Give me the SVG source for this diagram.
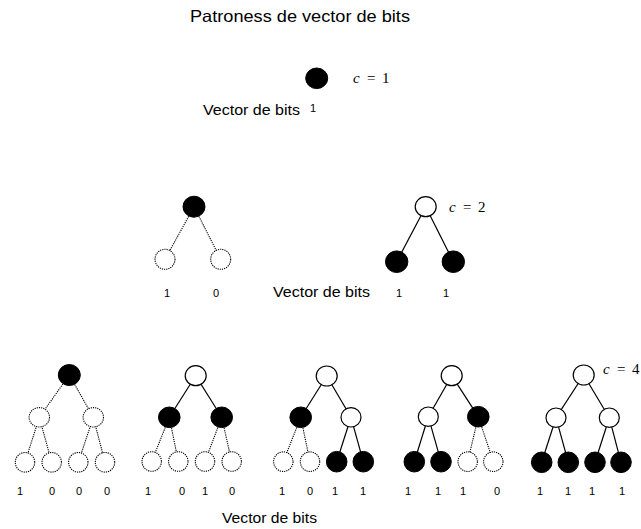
<svg xmlns="http://www.w3.org/2000/svg" width="641" height="529" viewBox="0 0 641 529">
<style>
  .t { font-family: "Liberation Sans", Arial, sans-serif; fill: #000; }
  .title { font-size: 16.5px; }
  .lbl { font-size: 14px; }
  .bit { font-size: 11px; text-anchor: middle; }
  .m { font-family: "Liberation Serif", "DejaVu Serif", serif; font-size: 15px; fill: #000; }
  .b { fill: #000; stroke: #000; stroke-width: 1; }
  .w { fill: #fff; stroke: #000; stroke-width: 1.2; }
  .d { fill: #fff; stroke: #000; stroke-width: 1.1; stroke-dasharray: 1.2 1; }
  .s { stroke: #000; stroke-width: 1.2; fill: none; }
  .dl { stroke: #000; stroke-width: 1.1; stroke-dasharray: 1.2 1; fill: none; }
</style>
<rect width="641" height="529" fill="#fff"/>
<text class="t title" x="190" y="22" textLength="220" lengthAdjust="spacingAndGlyphs">Patroness de vector de bits</text>

<g id="connectors">
  <line class="dl" x1="194" y1="206.7" x2="165" y2="259.3"/>
  <line class="dl" x1="194" y1="206.7" x2="220.7" y2="259.3"/>
  <line class="s" x1="425.7" y1="206.7" x2="396.7" y2="261.7"/>
  <line class="s" x1="425.7" y1="206.7" x2="453.3" y2="261.7"/>
  <line class="dl" x1="69.3" y1="375" x2="39.3" y2="417.3"/>
  <line class="dl" x1="69.3" y1="375" x2="93.3" y2="417.3"/>
  <line class="dl" x1="39.3" y1="417.3" x2="25" y2="462.3"/>
  <line class="dl" x1="39.3" y1="417.3" x2="51.7" y2="462.3"/>
  <line class="dl" x1="93.3" y1="417.3" x2="78.3" y2="462.3"/>
  <line class="dl" x1="93.3" y1="417.3" x2="105" y2="462.3"/>
  <line class="s" x1="195.7" y1="375.7" x2="169.3" y2="417.3"/>
  <line class="s" x1="195.7" y1="375.7" x2="221.7" y2="417.3"/>
  <line class="dl" x1="169.3" y1="417.3" x2="151.7" y2="461.5"/>
  <line class="dl" x1="169.3" y1="417.3" x2="178.3" y2="461.5"/>
  <line class="dl" x1="221.7" y1="417.3" x2="205" y2="461.5"/>
  <line class="dl" x1="221.7" y1="417.3" x2="231.7" y2="461.5"/>
  <line class="s" x1="326.7" y1="376" x2="300.7" y2="417.3"/>
  <line class="s" x1="326.7" y1="376" x2="351" y2="417.3"/>
  <line class="dl" x1="300.7" y1="417.3" x2="283.3" y2="461.7"/>
  <line class="dl" x1="300.7" y1="417.3" x2="310" y2="461.7"/>
  <line class="s" x1="351" y1="417.3" x2="336.7" y2="461.7"/>
  <line class="s" x1="351" y1="417.3" x2="363.3" y2="461.7"/>
  <line class="s" x1="451.7" y1="375.7" x2="428.3" y2="416.7"/>
  <line class="s" x1="451.7" y1="375.7" x2="478.3" y2="416.7"/>
  <line class="s" x1="428.3" y1="416.7" x2="414.3" y2="461.7"/>
  <line class="s" x1="428.3" y1="416.7" x2="441" y2="461.7"/>
  <line class="dl" x1="478.3" y1="416.7" x2="467.7" y2="461.7"/>
  <line class="dl" x1="478.3" y1="416.7" x2="493.3" y2="461.7"/>
  <line class="s" x1="583.7" y1="375" x2="556" y2="417.7"/>
  <line class="s" x1="583.7" y1="375" x2="609.3" y2="417.7"/>
  <line class="s" x1="556" y1="417.7" x2="541.7" y2="462.3"/>
  <line class="s" x1="556" y1="417.7" x2="568.3" y2="462.3"/>
  <line class="s" x1="609.3" y1="417.7" x2="595" y2="462.3"/>
  <line class="s" x1="609.3" y1="417.7" x2="621" y2="462.3"/>
</g>

<g id="n-c1"><ellipse class="b" cx="316.7" cy="78.3" rx="11" ry="10.3"/></g>

<g id="n-m1-root"><ellipse class="b" cx="194" cy="206.7" rx="11" ry="10.5"/></g>
<g id="n-m1-l"><ellipse class="d" cx="165" cy="259.3" rx="10" ry="10"/></g>
<g id="n-m1-r"><ellipse class="d" cx="220.7" cy="259.3" rx="10" ry="10"/></g>

<g id="n-m2-root"><ellipse class="w" cx="425.7" cy="206.7" rx="10.5" ry="10"/></g>
<g id="n-m2-l"><ellipse class="b" cx="396.7" cy="261.7" rx="11.2" ry="10.8"/></g>
<g id="n-m2-r"><ellipse class="b" cx="453.3" cy="261.7" rx="11.2" ry="10.8"/></g>

<g id="n-t1-root"><ellipse class="b" cx="69.3" cy="375" rx="11" ry="10.5"/></g>
<g id="n-t1-ml"><ellipse class="d" cx="39.3" cy="417.3" rx="10.2" ry="9.7"/></g>
<g id="n-t1-mr"><ellipse class="d" cx="93.3" cy="417.3" rx="10.2" ry="9.7"/></g>
<g id="n-t1-l1"><ellipse class="d" cx="25" cy="462.3" rx="9.7" ry="9.8"/></g>
<g id="n-t1-l2"><ellipse class="d" cx="51.7" cy="462.3" rx="9.7" ry="9.8"/></g>
<g id="n-t1-l3"><ellipse class="d" cx="78.3" cy="462.3" rx="9.7" ry="9.8"/></g>
<g id="n-t1-l4"><ellipse class="d" cx="105" cy="462.3" rx="9.7" ry="9.8"/></g>

<g id="n-t2-root"><ellipse class="w" cx="195.7" cy="375.7" rx="10.5" ry="10"/></g>
<g id="n-t2-ml"><ellipse class="b" cx="169.3" cy="417.3" rx="10.8" ry="10.3"/></g>
<g id="n-t2-mr"><ellipse class="b" cx="221.7" cy="417.3" rx="10.8" ry="10.3"/></g>
<g id="n-t2-l1"><ellipse class="d" cx="151.7" cy="461.5" rx="9.7" ry="9.8"/></g>
<g id="n-t2-l2"><ellipse class="d" cx="178.3" cy="461.5" rx="9.7" ry="9.8"/></g>
<g id="n-t2-l3"><ellipse class="d" cx="205" cy="461.5" rx="9.7" ry="9.8"/></g>
<g id="n-t2-l4"><ellipse class="d" cx="231.7" cy="461.5" rx="9.7" ry="9.8"/></g>

<g id="n-t3-root"><ellipse class="w" cx="326.7" cy="376" rx="10.5" ry="10"/></g>
<g id="n-t3-ml"><ellipse class="b" cx="300.7" cy="417.3" rx="10.8" ry="10.3"/></g>
<g id="n-t3-mr"><ellipse class="w" cx="351" cy="417.3" rx="10" ry="9.7"/></g>
<g id="n-t3-l1"><ellipse class="d" cx="283.3" cy="461.7" rx="9.7" ry="9.8"/></g>
<g id="n-t3-l2"><ellipse class="d" cx="310" cy="461.7" rx="9.7" ry="9.8"/></g>
<g id="n-t3-l3"><ellipse class="b" cx="336.7" cy="461.7" rx="10.3" ry="10.3"/></g>
<g id="n-t3-l4"><ellipse class="b" cx="363.3" cy="461.7" rx="10.3" ry="10.3"/></g>

<g id="n-t4-root"><ellipse class="w" cx="451.7" cy="375.7" rx="10.5" ry="10"/></g>
<g id="n-t4-ml"><ellipse class="w" cx="428.3" cy="416.7" rx="10" ry="9.7"/></g>
<g id="n-t4-mr"><ellipse class="b" cx="478.3" cy="416.7" rx="10.8" ry="10.3"/></g>
<g id="n-t4-l1"><ellipse class="b" cx="414.3" cy="461.7" rx="10.3" ry="10.3"/></g>
<g id="n-t4-l2"><ellipse class="b" cx="441" cy="461.7" rx="10.3" ry="10.3"/></g>
<g id="n-t4-l3"><ellipse class="d" cx="467.7" cy="461.7" rx="9.7" ry="9.8"/></g>
<g id="n-t4-l4"><ellipse class="d" cx="493.3" cy="461.7" rx="9.7" ry="9.8"/></g>

<g id="n-t5-root"><ellipse class="w" cx="583.7" cy="375" rx="10.5" ry="10"/></g>
<g id="n-t5-ml"><ellipse class="w" cx="556" cy="417.7" rx="10" ry="9.7"/></g>
<g id="n-t5-mr"><ellipse class="w" cx="609.3" cy="417.7" rx="10" ry="9.7"/></g>
<g id="n-t5-l1"><ellipse class="b" cx="541.7" cy="462.3" rx="10.3" ry="10.3"/></g>
<g id="n-t5-l2"><ellipse class="b" cx="568.3" cy="462.3" rx="10.3" ry="10.3"/></g>
<g id="n-t5-l3"><ellipse class="b" cx="595" cy="462.3" rx="10.3" ry="10.3"/></g>
<g id="n-t5-l4"><ellipse class="b" cx="621" cy="462.3" rx="10.3" ry="10.3"/></g>

<g id="labels">
  <text class="m" y="83"><tspan x="353" font-style="italic">c</tspan><tspan x="367">=</tspan><tspan x="382">1</tspan></text>
  <text class="m" y="212"><tspan x="449" font-style="italic">c</tspan><tspan x="463">=</tspan><tspan x="478">2</tspan></text>
  <text class="m" y="374"><tspan x="603" font-style="italic">c</tspan><tspan x="617">=</tspan><tspan x="632">4</tspan></text>

  <text class="t lbl" x="203" y="115" textLength="97" lengthAdjust="spacingAndGlyphs">Vector de bits</text>
  <text class="t bit" x="313" y="112" font-size="10">1</text>

  <text class="t bit" x="167" y="297">1</text>
  <text class="t bit" x="216" y="297">0</text>
  <text class="t lbl" x="273" y="297" textLength="97" lengthAdjust="spacingAndGlyphs">Vector de bits</text>
  <text class="t bit" x="399" y="297">1</text>
  <text class="t bit" x="446" y="297">1</text>

  <text class="t bit" x="20" y="495">1</text>
  <text class="t bit" x="52" y="495">0</text>
  <text class="t bit" x="79" y="495">0</text>
  <text class="t bit" x="107" y="495">0</text>
  <text class="t bit" x="148" y="495">1</text>
  <text class="t bit" x="182" y="495">0</text>
  <text class="t bit" x="205" y="495">1</text>
  <text class="t bit" x="232" y="495">0</text>
  <text class="t bit" x="282" y="495">1</text>
  <text class="t bit" x="310" y="495">0</text>
  <text class="t bit" x="335" y="495">1</text>
  <text class="t bit" x="363" y="495">1</text>
  <text class="t bit" x="408" y="495">1</text>
  <text class="t bit" x="438" y="495">1</text>
  <text class="t bit" x="463" y="495">1</text>
  <text class="t bit" x="497" y="495">0</text>
  <text class="t bit" x="540" y="495">1</text>
  <text class="t bit" x="568" y="495">1</text>
  <text class="t bit" x="592" y="495">1</text>
  <text class="t bit" x="622" y="495">1</text>
  <text class="t lbl" x="222" y="523" textLength="95" lengthAdjust="spacingAndGlyphs">Vector de bits</text>
</g>
</svg>
